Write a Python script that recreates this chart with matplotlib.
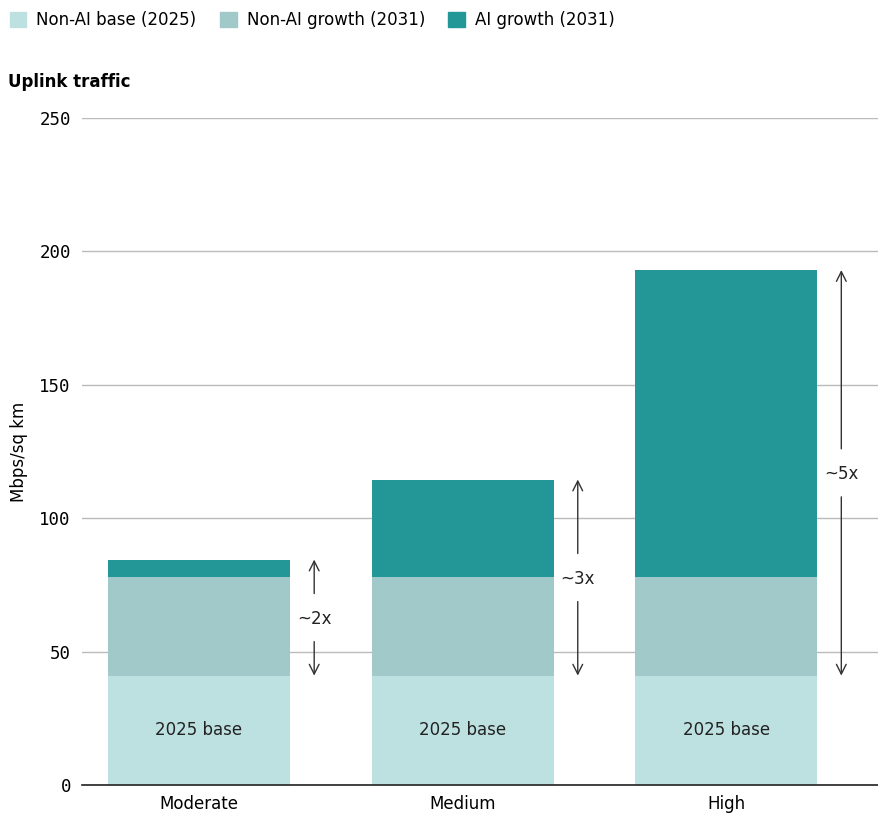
import matplotlib.pyplot as plt
from matplotlib.patches import Patch

# Données (Mbps/sq km)
scenarios = ['Moderate', 'Medium', 'High']
non_ai_base = [41, 41, 41]
non_ai_growth = [37, 37, 37]
ai_growth = [6.5, 36.5, 115]
multipliers = ['~2x', '~3x', '~5x']
series_labels = ['Non-AI base (2025)', 'Non-AI growth (2031)', 'AI growth (2031)']
colors = ['#bde1e0', '#a2c9ca', '#239798']

fig = plt.figure(figsize=(8.79, 8.16), dpi=100)
ax = fig.add_axes([82 / 879, 31 / 816, 797 / 879, 667 / 816])

x = list(range(len(scenarios)))
width = 0.69
ax.bar(x, non_ai_base, width, color=colors[0], zorder=2)
ax.bar(x, non_ai_growth, width, bottom=non_ai_base, color=colors[1], zorder=2)
bottom2 = [a + b for a, b in zip(non_ai_base, non_ai_growth)]
ax.bar(x, ai_growth, width, bottom=bottom2, color=colors[2], zorder=2)

arrow = dict(arrowstyle='->,head_length=0.7,head_width=0.35',
             color='#333333', lw=1, shrinkA=0, shrinkB=0)
gap = 9  # demi-trou autour du texte, en Mbps/sq km

for i in x:
    ax.text(i, non_ai_base[i] / 2, '2025 base', ha='center', va='center',
            fontsize=12, color='#222222', zorder=3)
    top = bottom2[i] + ai_growth[i]
    mid = (top + non_ai_base[i]) / 2
    xa = i + 0.437
    # flèche coupée en deux autour du libellé
    ax.annotate('', xy=(xa, top), xytext=(xa, mid + gap), arrowprops=arrow, zorder=3)
    ax.annotate('', xy=(xa, non_ai_base[i]), xytext=(xa, mid - gap), arrowprops=arrow, zorder=3)
    ax.text(xa, mid - 0.5, multipliers[i], ha='center', va='center',
            fontsize=12, color='#222222', zorder=4)

ax.set_xlim(-0.444, 2.58)
ax.set_ylim(0, 250)
ax.set_yticks([0, 50, 100, 150, 200, 250])
ax.yaxis.grid(True, color='#bbbbbb', lw=1, zorder=0)
for s in ['top', 'right', 'left']:
    ax.spines[s].set_visible(False)
ax.spines['bottom'].set_color('#222222')
ax.spines['bottom'].set_linewidth(1.2)
ax.tick_params(axis='y', length=0, pad=8)
ax.tick_params(axis='x', length=0, pad=7)
ax.set_xticks(x)
ax.set_xticklabels(scenarios, fontsize=12)
for lab in ax.get_yticklabels():
    lab.set_fontfamily('DejaVu Sans Mono')
    lab.set_fontsize(12.5)
ax.set_ylabel('Mbps/sq km', fontsize=12, labelpad=8)

fig.text(8 / 879, 1 - 82 / 816, 'Uplink traffic', fontsize=12, fontweight='bold',
         va='center', ha='left')

handles = [Patch(color=c) for c in colors]
fig.legend(handles, series_labels, loc='upper left', bbox_to_anchor=(-0.006, 1.005),
           ncol=3, frameon=False, fontsize=12, handlelength=1.0, handleheight=1.0,
           handletextpad=0.6, columnspacing=1.4)

fig.savefig('out.png', dpi=100)
